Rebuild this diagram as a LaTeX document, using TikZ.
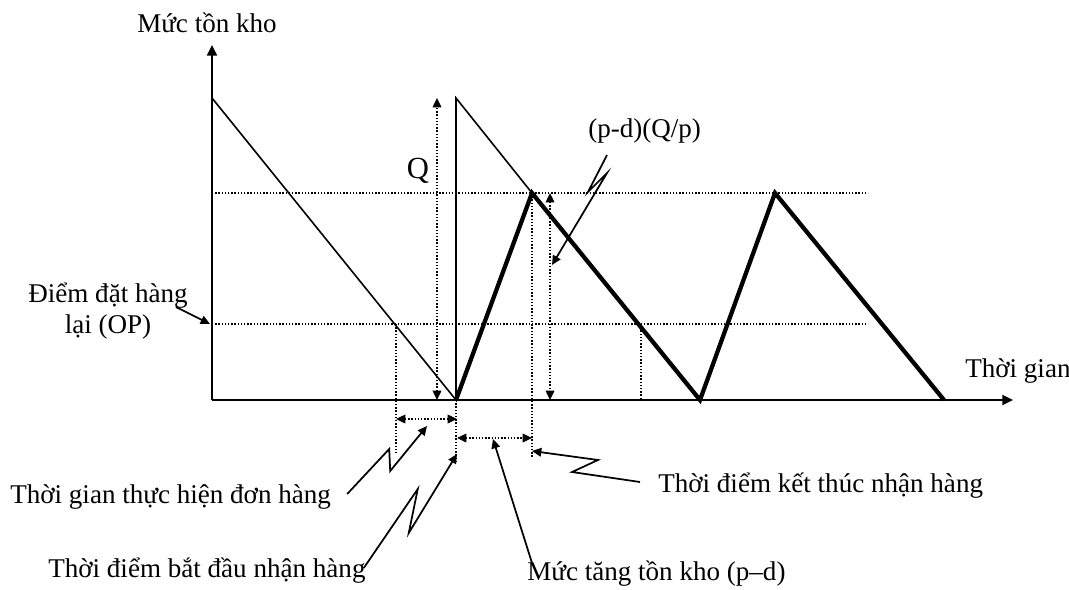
\documentclass[tikz,border=0pt]{standalone}
\usepackage{fontspec}
\setmainfont{Liberation Serif}
\usetikzlibrary{arrows.meta, calc}
\tikzstyle{axis} = [line width=1.6pt, -{Triangle[length=8pt, width=7.5pt]}]
\tikzstyle{stock} = [line width=1.2pt]
\tikzstyle{prod} = [line width=3.2pt]
\tikzstyle{guide} = [line width=1pt, dash pattern=on 1pt off 1.4pt]
\tikzstyle{dim} = [guide, {Triangle[length=7pt, width=6.5pt]}-{Triangle[length=7pt, width=6.5pt]}]
\tikzstyle{pointer} = [line width=1.3pt, -{Triangle[length=7pt, width=6.5pt]}]
\tikzstyle{txt} = [font=\fontsize{20.3}{24}\selectfont, inner sep=0pt]

\begin{document}
\begin{tikzpicture}[x=0.75pt, y=-0.75pt]
    \useasboundingbox (0,0) rectangle (1069,589);
    % Points of the stock curve
    \coordinate (O) at (212,400);
    \coordinate (yEnd) at (212,45);
    \coordinate (xEnd) at (1013,400);
    \coordinate (start) at (212,98);
    \coordinate (zero1) at (456,400);
    \coordinate (top1) at (456,98);
    \coordinate (peak1) at (532,193);
    \coordinate (zero2) at (700,400);
    \coordinate (peak2) at (775,193);
    \coordinate (zero3) at (944,400);
    \coordinate (opHit1) at (396,324);
    \coordinate (opHit2) at (641,324);

    % Axes
    \draw [axis] (O) -- (yEnd);
    \draw [axis] (O) -- (xEnd);
    \node (yLabel) [txt, anchor=base] at (207,32) {Mức tồn kho};
    \node (xLabel) [txt, anchor=base west] at (965,377) {Thời gian};

    % Levels Q and OP
    \draw [guide] (start |- peak1) -- (868,193);
    \draw [guide] (start |- opHit1) -- (868,324);
    \draw [guide] (opHit1) -- ++(0,129);
    \draw [guide] (zero1) -- ++(0,62);
    \draw [guide] (peak1) -- ++(0,264);
    \draw [guide] (opHit2) -- (opHit2 |- O);

    % Stock curve
    \draw [stock] (start) -- (zero1) -- (top1) -- (peak1);
    \draw [prod] (zero1) -- (peak1) -- (zero2) -- (peak2) -- (zero3);

    % Dimensions
    \coordinate (qBot) at (437,400);
    \coordinate (qTop) at (437,98);
    \coordinate (pdTop) at (550,193);
    \coordinate (pdBot) at (550,400);
    \coordinate (leadL) at (396,419);
    \coordinate (leadR) at (457,419);
    \coordinate (riseL) at (457,438);
    \coordinate (riseR) at (532,438);
    \draw [dim] (qBot) -- (qTop);
    \draw [dim] (pdTop) -- (pdBot);
    \draw [dim] (leadL) -- (leadR);
    \draw [dim] (riseL) -- (riseR);
    \node (qText) [txt, font=\fontsize{23}{27}\selectfont, anchor=base] at (418,178) {Q};

    % Labels and pointers
    \node (opText) [txt, anchor=base] at (108,302) {Điểm đặt hàng};
    \node (opText2) [txt, anchor=base] at (108,333) {lại (OP)};
    \node (pdText) [txt, anchor=base west] at (588,137) {(p-d)(Q/p)};
    \node (leadText) [txt, anchor=base west] at (10,503) {Thời gian thực hiện đơn hàng};
    \node (startText) [txt, anchor=base west] at (48,577) {Thời điểm bắt đầu nhận hàng};
    \node (riseText) [txt, anchor=base west] at (527,580) {Mức tăng tồn kho (p--d)};
    \node (endText) [txt, anchor=base west] at (658,492) {Thời điểm kết thúc nhận hàng};

    \coordinate (opTip) at (210,324);
    \coordinate (pdTip) at (552,265);
    \coordinate (leadTip) at (427,426);
    \coordinate (startTip) at (457,454);
    \coordinate (riseTip) at (493,439);
    \coordinate (endTip) at (532,451);
    \draw [pointer] ([shift={(-12,5)}]opText.base east) -- (opTip);
    \draw [pointer] ([shift={(19,18)}]pdText.base west) -- ++(-19,37) -- ++(19,-19) -- (pdTip);
    \draw [pointer] ([shift={(16,-9)}]leadText.base east) -- ++(42,-45) -- ++(1,22) -- (leadTip);
    \draw [pointer] ([shift={(-2,-9)}]startText.base east) -- ++(54,-79) -- ++(-9,44) -- (startTip);
    \draw [pointer] ([shift={(5,-17)}]riseText.base west) -- (riseTip);
    \draw [pointer] ([shift={(-18,-10)}]endText.base west) -- ++(-68,-10) -- ++(26,-12) -- (endTip);
\end{tikzpicture}
\end{document}
